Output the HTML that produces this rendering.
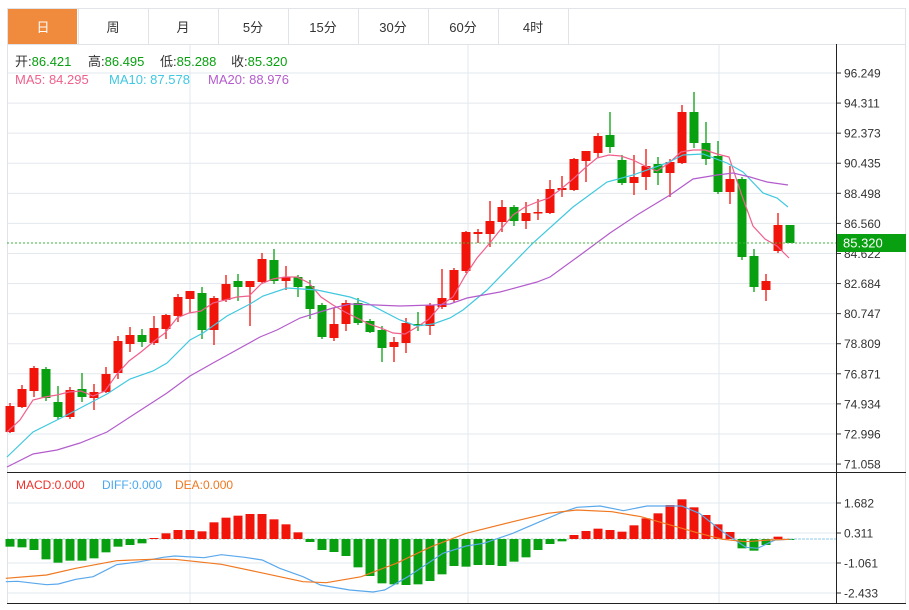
<!DOCTYPE html>
<html><head><meta charset="utf-8"><style>
body{margin:0;background:#fff;width:909px;height:610px;overflow:hidden;font-family:"Liberation Sans","Noto Sans CJK SC",sans-serif;}
svg{position:absolute;left:0;top:0}
</style></head><body>
<svg id="s" width="909" height="610" xmlns="http://www.w3.org/2000/svg" font-family="Liberation Sans, Noto Sans CJK SC, sans-serif"></svg>
<script>
const s=document.getElementById('s');let h='';
const C=66,X=i=>10+12*i;
h+='<rect x="7.5" y="8.5" width="898" height="595" fill="none" stroke="#e0e4e8"/>';
h+='<line x1="7" y1="44.5" x2="906" y2="44.5" stroke="#e0e4e8"/>';
const tabs=['日','周','月','5分','15分','30分','60分','4时'];
tabs.forEach((t,i)=>{const x=8+70*i;
 if(i==0)h+=`<rect x="8" y="9" width="69" height="35" fill="#f08a3c"/>`;
 h+=`<line x1="${x+70.5}" y1="9" x2="${x+70.5}" y2="44" stroke="#e0e4e8"/>`;
 h+=`<text x="${x+35}" y="32" font-size="13" text-anchor="middle" fill="${i?'#333':'#fff'}">${t}</text>`;});
const ticks=['96.249','94.311','92.373','90.435','88.498','86.560','84.622','82.684','80.747','78.809','76.871','74.934','72.996','71.058'];
ticks.forEach((t,i)=>{const y=73+i*30.08;
 h+=`<line x1="7" y1="${y}" x2="836" y2="${y}" stroke="#e3e8ee"/>`;
 h+=`<line x1="836" y1="${y}" x2="841" y2="${y}" stroke="#333"/>`;
 h+=`<text x="844" y="${y+4.5}" font-size="12" fill="#333">${t}</text>`;});
[190,468,719].forEach(x=>{h+=`<line x1="${x}" y1="45" x2="${x}" y2="472" stroke="#e3e8ee"/><line x1="${x}" y1="474" x2="${x}" y2="603" stroke="#e3e8ee"/>`});
[503,533,563,593].forEach((y,i)=>{h+=`<line x1="7" y1="${y}" x2="836" y2="${y}" stroke="#e3e8ee"/><line x1="836" y1="${y}" x2="841" y2="${y}" stroke="#333"/><text x="844" y="${y+4.5}" font-size="12" fill="#333">${['1.682','0.311','-1.061','-2.433'][i]}</text>`});
const K=[['r',406,432,403,433],['r',389,407,385,408],['r',368,391,366,397],['g',369,398,367,401],['g',402,417,386,420],['r',390,417,387,419],['g',389,397,373,402],['r',392,398,384,410],['r',374,392,367,393],['r',341,373,336,379],
['r',335,344,327,352],['g',335,342,329,347],['r',328,343,316,345],['r',315,329,314,339],['r',297,316,294,322],['r',291,299,291,313],['g',293,330,287,339],['r',298,330,296,345],['r',284,300,275,302],['g',281,287,274,301],
['r',281,287,281,326],['r',259,282,253,283],['g',260,281,249,284],['r',277,281,266,290],['g',277,287,275,297],['g',286,309,280,319],['g',305,337,303,339],['r',324,338,308,341],['r',303,324,300,331],['g',303,323,298,325],
['g',321,332,319,333],['g',330,348,326,362],['r',342,347,337,362],['r',323,343,318,353],['g',324,326,312,331],['r',305,326,303,335],['r',298,307,269,309],['r',270,300,268,302],['r',232,271,231,273],['r',232,234,229,243],
['r',221,234,201,247],['r',207,222,200,232],['g',207,221,205,226],['r',213,221,202,229],['r',212,213,199,220],['r',189,213,180,214],['r',188,190,176,197],['r',159,190,158,191],['r',151,161,151,182],['r',136,153,133,158],
['g',135,147,112,153],['g',160,183,155,185],['r',177,183,155,195],['r',166,177,149,190],['g',164,173,157,185],['r',162,173,159,197],['r',112,163,105,164],['g',112,143,92,148],['g',143,159,122,165],['g',156,192,141,194],
['r',179,192,166,204],['g',179,257,177,260],['g',256,287,249,292],['r',281,290,274,301],['r',225,251,213,253],['g',225,243,225,243]];
K.forEach((k,i)=>{const x=X(i),c=k[0]=='r'?'#f0140a':'#08a010';
 h+=`<line x1="${x}" y1="${k[3]}" x2="${x}" y2="${k[4]}" stroke="${c}" stroke-width="1.3"/>`;
 h+=`<rect x="${x-4.5}" y="${k[1]}" width="9" height="${Math.max(1.5,k[2]-k[1])}" fill="${c}"/>`;});
const pl=(p,c)=>{h+=`<polyline fill="none" stroke="${c}" stroke-width="1.2" points="${p.map(a=>a.join(',')).join(' ')}"/>`};
pl([[7,432],[20,420],[33,400],[45,397],[57,395],[69,392],[81,391],[93,396],[105,391],[117,374],[129,361],[141,352],[153,342],[165,333],[177,318],[189,313],[201,311],[213,303],[225,300],[237,297],[249,296],[261,284],[273,279],[285,277],[297,277],[309,283],[321,297],[333,305],[345,312],[357,318],[369,324],[381,328],[393,333],[405,334],[417,327],[429,319],[441,305],[453,297],[465,276],[477,258],[489,244],[501,229],[513,215],[525,207],[537,202],[549,198],[561,189],[573,179],[585,168],[597,158],[609,155],[621,156],[633,160],[645,166],[657,171],[669,163],[681,152],[693,150],[705,150],[717,154],[729,157],[741,193],[753,226],[765,239],[777,246],[789,258]],'#f0608c');
pl([[7,457],[33,432],[67,415],[107,394],[130,379],[153,371],[167,363],[190,340],[203,333],[227,316],[250,304],[263,296],[287,288],[317,290],[350,297],[367,303],[400,320],[417,326],[433,324],[450,318],[463,310],[487,290],[533,243],[573,207],[607,182],[633,175],[667,163],[683,155],[703,154],[727,163],[743,172],[763,193],[777,198],[788,207]],'#40c8e0');
pl([[7,467],[33,454],[57,450],[80,443],[107,432],[130,417],[167,393],[190,376],[213,363],[260,337],[277,330],[300,318],[333,308],[350,304],[400,306],[433,305],[450,304],[467,298],[500,292],[537,282],[550,277],[583,253],[610,233],[637,215],[670,195],[693,179],[717,175],[733,173],[750,177],[767,182],[788,185]],'#b45ccc');
h+='<line x1="7" y1="243" x2="836" y2="243" stroke="#3cb43c" stroke-dasharray="2,2"/>';
h+='<rect x="837" y="234" width="69" height="18" fill="#08a010"/><text x="843" y="247.5" font-size="13" fill="#fff">85.320</text>';
h+='<text y="66" font-size="13" fill="#333"><tspan x="15">开:</tspan><tspan fill="#08a010">86.421</tspan><tspan x="88">高:</tspan><tspan fill="#08a010">86.495</tspan><tspan x="160">低:</tspan><tspan fill="#08a010">85.288</tspan><tspan x="231">收:</tspan><tspan fill="#08a010">85.320</tspan></text>';
h+='<text y="84" font-size="13"><tspan x="15" fill="#f0608c">MA5: 84.295</tspan><tspan x="109" fill="#40c8e0">MA10: 87.578</tspan><tspan x="208" fill="#b45ccc">MA20: 88.976</tspan></text>';
h+='<line x1="7" y1="472.5" x2="906" y2="472.5" stroke="#222"/><line x1="7" y1="603.5" x2="906" y2="603.5" stroke="#222"/><line x1="836.5" y1="44" x2="836.5" y2="604" stroke="#222"/>';
const M=[230,232,240,268,278,272,272,265,247,230,225,220,204,190,180,180,184,157,143,137,132,132,148,163,187,216,240,246,258,292,318,340,343,345,343,333,313,288,290,285,285,288,275,262,240,222,214,195,183,176,180,185,166,145,130,105,88,112,135,163,186,235,242,225,200,208];
h+='<line x1="7" y1="539" x2="836" y2="539" stroke="#9cc" stroke-dasharray="2,2"/>';
M.forEach((v,i)=>{const y=470+v/3,z=539,x=X(i);const c=y<z?'#f0140a':'#08a010';
 h+=`<rect x="${x-4.5}" y="${Math.min(y,z)}" width="9" height="${Math.max(1,Math.abs(y-z))}" fill="${c}"/>`;});
const cv=p=>p.map(a=>[(a[0]/1.716).toFixed(1),(470+a[1]/3).toFixed(1)]);
pl(cv([[10,335],[30,334],[50,338],[80,344],[100,342],[130,328],[160,320],[200,284],[240,275],[280,262],[300,258],[350,263],[380,254],[420,262],[450,270],[480,295],[520,320],[550,345],[600,360],[640,366],[660,360],[700,320],[760,250],[800,228],[830,220],[880,190],[920,160],[960,130],[990,112],[1030,108],[1070,122],[1110,108],[1170,108],[1200,130],[1240,185],[1280,232],[1300,235],[1330,210],[1355,208]]),'#5aa8ec');
pl(cv([[10,325],[80,315],[130,295],[200,272],[260,268],[300,268],[380,283],[440,305],[520,335],[560,338],[620,320],[680,280],[740,230],[800,190],[880,155],[940,130],[990,120],[1050,125],[1100,140],[1140,160],[1200,190],[1240,208],[1280,215],[1320,210],[1355,208]]),'#f07820');
h+='<line x1="790" y1="539" x2="836" y2="539" stroke="#8cc8f0" stroke-dasharray="2,2"/>';
h+='<text y="489" font-size="12"><tspan x="16" fill="#f0302a">MACD:0.000</tspan><tspan x="102" fill="#4aa8f0">DIFF:0.000</tspan><tspan x="175" fill="#f07820">DEA:0.000</tspan></text>';
s.innerHTML=h;
</script>
</body></html>
